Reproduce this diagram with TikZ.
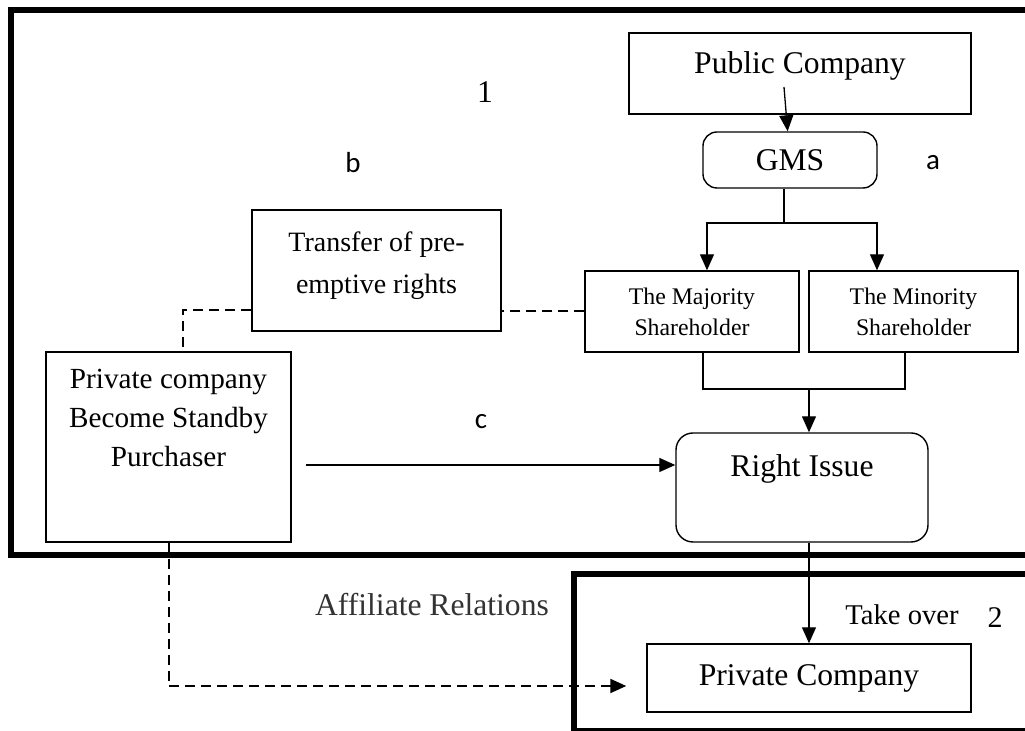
\documentclass[tikz,border=0pt]{standalone}
\usepackage{fontspec}
\setmainfont{Liberation Serif}
\newfontfamily\calfont{Carlito}
\usetikzlibrary{arrows.meta, calc, positioning}

\begin{document}
\begin{tikzpicture}[x=0.5pt, y=-0.5pt,
    box/.style={draw, line width=0.7pt, inner sep=0pt, align=center},
    rbox/.style={box, rounded corners=7pt},
    frame/.style={line width=3pt},
    link/.style={line width=0.65pt},
    dlink/.style={line width=1pt, dash pattern=on 5pt off 3pt},
    >={Triangle[length=8pt, width=7pt]},
    big/.style={font=\fontsize{15.8}{19}\selectfont},
    mid/.style={font=\fontsize{14.6}{19.5}\selectfont},
    small/.style={font=\fontsize{11.9}{15.5}\selectfont},
    tag/.style={font=\calfont\fontsize{14.5}{17}\selectfont}]
\useasboundingbox (0, 0) rectangle (1025, 731);

\draw[frame] (11, 10) rectangle (1040, 555);
\draw[frame] (574, 574) rectangle (1040, 731);

\node[box, big, minimum width=171pt, minimum height=40.5pt, text height=7pt, text depth=7pt] (pub) at (800, 73.5) {Public Company};
\node[rbox, big, minimum width=87pt, minimum height=28pt] (gms) at (790, 160) {GMS};
\node[box, font=\fontsize{14}{21}\selectfont, minimum width=124.5pt, minimum height=60.5pt, text depth=8pt] (transfer) at (376.5, 270.5) {Transfer of pre-\\emptive rights};
\node[box, small, minimum width=107pt, minimum height=40.5pt] (maj) at (692, 311.5) {The Majority\\Shareholder};
\node[box, small, minimum width=104.5pt, minimum height=40.5pt] (min) at (913.5, 311.5) {The Minority\\Shareholder};
\node[box, mid, minimum width=122.5pt, minimum height=95pt, text depth=29pt] (standby) at (168.5, 447) {Private company\\Become Standby\\Purchaser};
\node[rbox, rounded corners=8.5pt, big, minimum width=126pt, minimum height=54.5pt, text height=11pt, text depth=21.5pt] (issue) at (802, 487.5) {Right Issue};
\node[box, big, minimum width=162pt, minimum height=34pt] (priv) at (809, 678) {Private Company};

\node[big] (one) at (485, 92) {1};
\node[tag] (a) at (933, 163) {a};
\node[tag] (b) at (353, 163) {b};
\node[tag] (c) at (481, 422) {c};
\node[big, text=black!80] (aff) at (432, 605) {Affiliate Relations};
\node[font=\fontsize{14.3}{17}\selectfont] (take) at (902, 615) {Take over};
\node[font=\fontsize{15}{17}\selectfont] (two) at (995, 618) {2};

\coordinate (pubfoot) at (784, 87);
\coordinate (split) at (784, 223);
\coordinate (join) at (809, 389);
\coordinate (cstart) at (306, 465);

\draw[link, ->] (pubfoot) -- (gms);
\draw[link] (gms.south -| split) -- (split);
\draw[link, ->] (split) -| (maj.north -| 707,0);
\draw[link, ->] (split) -| (min.north -| 877,0);
\draw[link] (maj.south -| 703,0) |- (join) -| (min.south -| 905,0);
\draw[link]
    (join) edge[->] (join |- issue.north)
    (cstart) edge[->] (cstart -| issue.west)
    (issue.south -| priv.north) edge[->] (priv.north);

\draw[dlink] (maj.west) -- (transfer.east |- maj.west);
\draw[dlink] ($(transfer.south west)+(0,-22)$) -| (standby.north -| 183,0);
\draw[dlink, ->] (standby.south) |- ($(priv.west)+(-20,8)$);
\end{tikzpicture}
\end{document}
